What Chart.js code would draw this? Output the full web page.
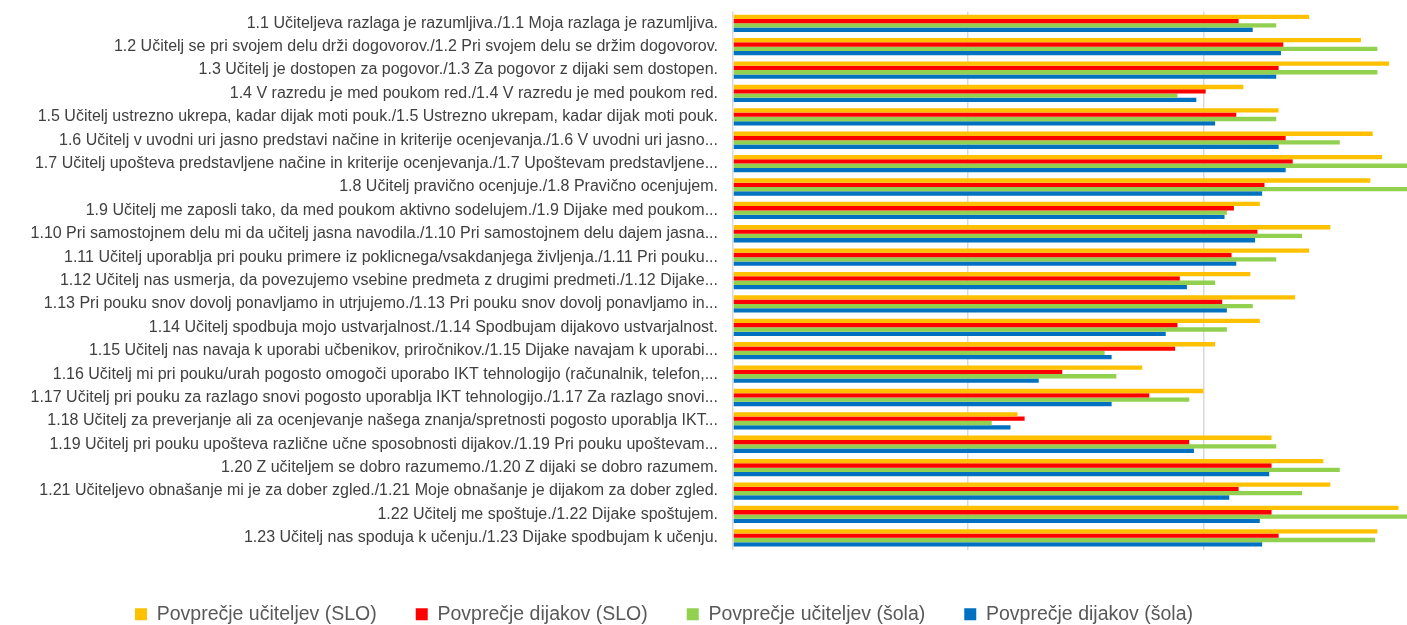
<!DOCTYPE html>
<html>
<head>
<meta charset="utf-8">
<script src="https://cdn.jsdelivr.net/npm/chart.js@4"></script>
<style>
  html, body { margin: 0; padding: 0; background: #fff; overflow: hidden; }
  #wrap { position: relative; width: 1407px; height: 625px; }
</style>
</head>
<body>
<div id="wrap"><canvas id="chart"></canvas></div>
<script>
// --- DATA ---
const categories = [
  "1.1 Učiteljeva razlaga je razumljiva./1.1 Moja razlaga je razumljiva.",
  "1.2 Učitelj se pri svojem delu drži dogovorov./1.2 Pri svojem delu se držim dogovorov.",
  "1.3 Učitelj je dostopen za pogovor./1.3 Za pogovor z dijaki sem dostopen.",
  "1.4 V razredu je med poukom red./1.4 V razredu je med poukom red.",
  "1.5 Učitelj ustrezno ukrepa, kadar dijak moti pouk./1.5 Ustrezno ukrepam, kadar dijak moti pouk.",
  "1.6 Učitelj v uvodni uri jasno predstavi načine in kriterije ocenjevanja./1.6 V uvodni uri jasno...",
  "1.7 Učitelj upošteva predstavljene načine in kriterije ocenjevanja./1.7 Upoštevam predstavljene...",
  "1.8 Učitelj pravično ocenjuje./1.8 Pravično ocenjujem.",
  "1.9 Učitelj me zaposli tako, da med poukom aktivno sodelujem./1.9 Dijake med poukom...",
  "1.10 Pri samostojnem delu mi da učitelj jasna navodila./1.10 Pri samostojnem delu dajem jasna...",
  "1.11 Učitelj uporablja pri pouku primere iz poklicnega/vsakdanjega življenja./1.11 Pri pouku...",
  "1.12 Učitelj nas usmerja, da povezujemo vsebine predmeta z drugimi predmeti./1.12 Dijake...",
  "1.13 Pri pouku snov dovolj ponavljamo in utrjujemo./1.13 Pri pouku snov dovolj ponavljamo in...",
  "1.14 Učitelj spodbuja mojo ustvarjalnost./1.14 Spodbujam dijakovo ustvarjalnost.",
  "1.15 Učitelj nas navaja k uporabi učbenikov, priročnikov./1.15 Dijake navajam k uporabi...",
  "1.16 Učitelj mi pri pouku/urah pogosto omogoči uporabo IKT tehnologijo (računalnik, telefon,...",
  "1.17 Učitelj pri pouku za razlago snovi pogosto uporablja IKT tehnologijo./1.17 Za razlago snovi...",
  "1.18 Učitelj za preverjanje ali za ocenjevanje našega znanja/spretnosti pogosto uporablja IKT...",
  "1.19 Učitelj pri pouku upošteva različne učne sposobnosti dijakov./1.19 Pri pouku upoštevam...",
  "1.20 Z učiteljem se dobro razumemo./1.20 Z dijaki se dobro razumem.",
  "1.21 Učiteljevo obnašanje mi je za dober zgled./1.21 Moje obnašanje je dijakom za dober zgled.",
  "1.22 Učitelj me spoštuje./1.22 Dijake spoštujem.",
  "1.23 Učitelj nas spoduja k učenju./1.23 Dijake spodbujam k učenju."
];

const seriesNames = [
  "Povprečje učiteljev (SLO)",
  "Povprečje dijakov (SLO)",
  "Povprečje učiteljev (šola)",
  "Povprečje dijakov (šola)"
];

const teachersSLO = [3.45, 3.67, 3.79, 3.17, 3.32, 3.72, 3.76, 3.71, 3.24, 3.54, 3.45, 3.20,
                     3.39, 3.24, 3.05, 2.74, 3.00, 2.21, 3.29, 3.51, 3.54, 3.83, 3.74];
const studentsSLO = [3.15, 3.34, 3.32, 3.01, 3.14, 3.35, 3.38, 3.26, 3.13, 3.23, 3.12, 2.90,
                     3.08, 2.89, 2.88, 2.40, 2.77, 2.24, 2.94, 3.29, 3.15, 3.29, 3.32];
const teachersSchool = [3.31, 3.74, 3.74, 2.89, 3.31, 3.58, 3.95, 3.92, 3.10, 3.42, 3.31, 3.05,
                        3.21, 3.10, 2.58, 2.63, 2.94, 2.10, 3.31, 3.58, 3.42, 3.95, 3.73];
const studentsSchool = [3.21, 3.33, 3.31, 2.97, 3.05, 3.32, 3.35, 3.25, 3.09, 3.22, 3.14, 2.93,
                        3.10, 2.84, 2.61, 2.30, 2.61, 2.18, 2.96, 3.28, 3.11, 3.24, 3.25];

const seriesColors = ['#FFC000', '#FF0000', '#92D050', '#0070C0'];

// axis range (scale starts at 1, gridline every 1; the plot runs off the right edge)
const xMin = 1;
const xMax = 3.53;

// --- CHART ---
Chart.defaults.font.family = "'Liberation Sans', Arial, sans-serif";

const seriesValues = [teachersSLO, studentsSLO, teachersSchool, studentsSchool];

new Chart(document.getElementById('chart'), {
  type: 'bar',
  data: {
    labels: categories,
    datasets: seriesValues.map((vals, i) => ({
      label: seriesNames[i],
      data: vals,
      base: xMin,
      backgroundColor: seriesColors[i],
      borderWidth: 0,
      categoryPercentage: 0.74,
      barPercentage: 1.0,
      clip: false
    }))
  },
  options: {
    indexAxis: 'y',
    responsive: true,
    maintainAspectRatio: false,
    animation: false,
    layout: { padding: { top: 9, right: 79, bottom: -9, left: 0 } },
    scales: {
      x: {
        min: xMin,
        max: xMax,
        afterBuildTicks: axis => {
          axis.ticks = axis.ticks.filter(t => Number.isInteger(t.value));
        },
        afterFit: scale => { scale.height = 16; },
        ticks: { display: false, stepSize: 1 },
        grid: { color: '#d9d9d9', lineWidth: 1.5, drawTicks: false },
        border: { display: false }
      },
      y: {
        afterFit: scale => { scale.width = 733; },
        // invisible tick marks only to push the labels away from the plot
        grid: { display: true, drawOnChartArea: false, drawTicks: true, tickLength: 13, color: 'rgba(0,0,0,0)' },
        border: { display: false },
        ticks: {
          padding: 2,
          color: '#404040',
          font: { size: 16 },
          autoSkip: false
        }
      }
    },
    plugins: {
      legend: {
        position: 'bottom',
        labels: {
          boxWidth: 12,
          boxHeight: 12,
          padding: 39,
          color: '#595959',
          font: { size: 19.5 }
        }
      },
      tooltip: { enabled: false }
    }
  }
});
</script>
</body>
</html>
